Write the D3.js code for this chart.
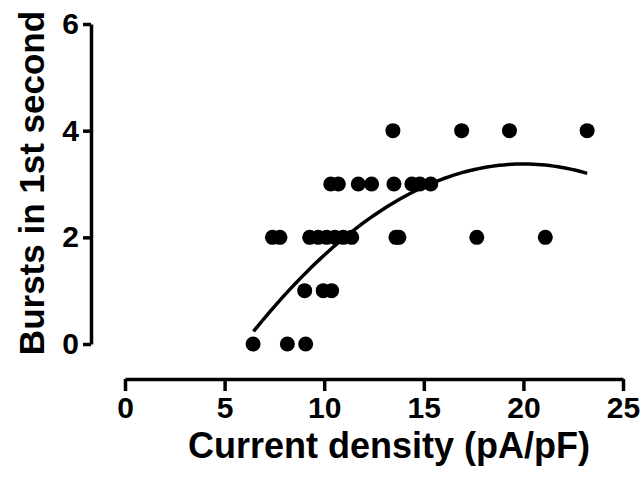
<!DOCTYPE html>
<html>
<head>
<meta charset="utf-8">
<script src="https://cdn.jsdelivr.net/npm/d3@7"></script>
<style>
  body { margin: 0; background: #fff; }
  text { font-family: "Liberation Sans", Arial, sans-serif; font-weight: bold; fill: #000; }
</style>
</head>
<body>
<div id="chart"></div>
<script>
// current density (pA/pF) and bursts counted in the 1st second, per cell
var density = [6.43, 8.15, 9.07,
  9.02, 9.95, 10.37,
  7.4, 7.78, 9.27, 9.7, 10.12, 10.54, 10.96, 11.38, 13.6, 13.75, 17.66, 21.1,
  10.33, 10.71, 11.71, 12.38, 13.5, 14.4, 14.8, 15.35,
  13.45, 16.9, 19.3, 23.2];
var bursts = [0, 0, 0,
  1, 1, 1,
  2, 2, 2, 2, 2, 2, 2, 2, 2, 2, 2, 2,
  3, 3, 3, 3, 3, 3, 3, 3,
  4, 4, 4, 4];
var xTicks = [0, 5, 10, 15, 20, 25];
var yTicks = [0, 2, 4, 6];
// second order polynomial fit as drawn: y = c0 + c1*x + c2*x^2, over the data range
var fitCoef = [-3.465, 0.684, -0.0171];
var fitRange = [6.45, 23.2];

(function() {
  var width = 640, height = 479

  var svg = d3.select("#chart")
    .append("svg")
    .attr("width", width)
    .attr("height", height)

  var xScale = d3.scaleLinear().domain([0, 25]).range([125, 623])
  var yScale = d3.scaleLinear().domain([0, 6]).range([344, 24])

  var points = density.map(function(d, i) { return { x: d, y: bursts[i] } })

  var fitLine = d3.range(fitRange[0], fitRange[1] + 0.001, (fitRange[1] - fitRange[0]) / 80).map(function(x) {
    return { x: x, y: fitCoef[0] + fitCoef[1] * x + fitCoef[2] * x * x }
  })

  // y axis (prism style, detached from x axis)
  var yAxis = svg.append("g")
    .attr("class", "axis y-axis")
    .attr("transform", "translate(91,0)")
    .call(d3.axisLeft(yScale).tickValues(yTicks).tickFormat(d3.format("d"))
      .tickSize(8).tickSizeOuter(0).tickPadding(4))
  yAxis.select(".domain").attr("stroke-width", 3.5)
  yAxis.selectAll(".tick line").attr("stroke-width", 3.5)
  yAxis.selectAll(".tick text").style("font-size", "30px")

  var xAxis = svg.append("g")
    .attr("class", "axis x-axis")
    .attr("transform", "translate(0,379)")
    .call(d3.axisBottom(xScale).tickValues(xTicks).tickFormat(d3.format("d"))
      .tickSize(12).tickSizeOuter(0).tickPadding(6))
  xAxis.select(".domain").attr("stroke-width", 3.5)
  xAxis.selectAll(".tick line").attr("stroke-width", 3.5)
  xAxis.selectAll(".tick text").style("font-size", "30px")

  svg.selectAll(".dot")
    .data(points)
    .enter().append("circle")
    .attr("class", "dot")
    .attr("cx", function(d) { return xScale(d.x) })
    .attr("cy", function(d) { return yScale(d.y) })
    .attr("r", 7.5)
    .attr("fill", "#000")

  svg.append("path")
    .datum(fitLine)
    .attr("fill", "none")
    .attr("stroke", "#000")
    .attr("stroke-width", 3.5)
    .attr("d", d3.line()
      .x(function(d) { return xScale(d.x) })
      .y(function(d) { return yScale(d.y) }))

  svg.append("text")
    .attr("transform", "translate(44,183) rotate(-90)")
    .attr("text-anchor", "middle")
    .style("font-size", "35px")
    .text("Bursts in 1st second")

  svg.append("text")
    .attr("x", 389)
    .attr("y", 458)
    .attr("text-anchor", "middle")
    .style("font-size", "36px")
    .text("Current density (pA/pF)")
})();
</script>
</body>
</html>
